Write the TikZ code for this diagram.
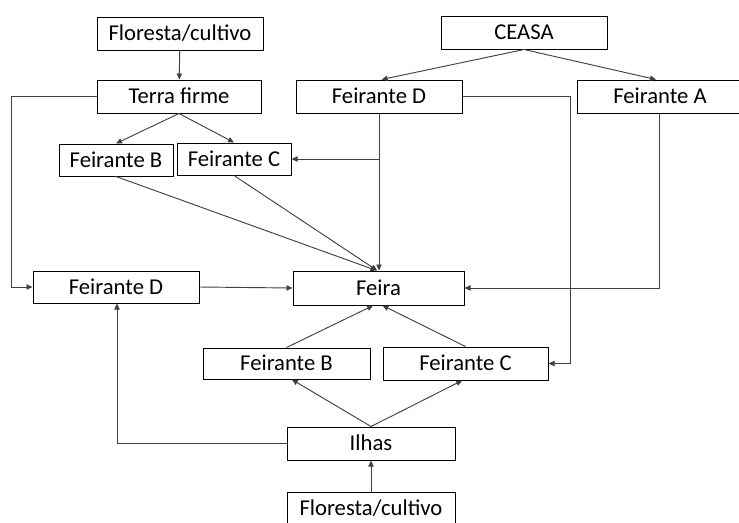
\documentclass[tikz,border=0pt]{standalone}
\usepackage{fontspec}
\setmainfont{Carlito}
\usetikzlibrary{arrows.meta}
\begin{document}
\begin{tikzpicture}[x=0.75pt,y=-0.75pt,
  box/.style={draw=black,line width=0.75pt,minimum height=24.75pt,inner sep=0pt,
    text height=10.9pt,text depth=0pt,
    font=\fontsize{17}{20}\selectfont,fill=white},
  arr/.style={draw=black!75,line width=0.7pt,-{Triangle[length=4.5pt,width=4pt]}},
  ln/.style={draw=black!75,line width=0.7pt}]
\clip (0,0) rectangle (739,522);
\node[box,minimum width=124.5pt] (flor1) at (180,33.5) {Floresta/cultivo};
\node[box,minimum width=124.5pt] (ceasa) at (524,32.5) {CEASA};
\node[box,minimum width=123pt] (terra) at (179,96.5) {Terra firme};
\node[box,minimum width=124.5pt] (fdtop) at (379,96.5) {Feirante D};
\node[box,minimum width=124.5pt] (fa) at (660,96.5) {Feirante A};
\node[box,minimum width=85.5pt,minimum height=24pt] (fb1) at (116,160) {Feirante B};
\node[box,minimum width=85.5pt,minimum height=24pt] (fc1) at (234,159) {Feirante C};
\node[box,minimum width=124.5pt,minimum height=24pt] (fdl) at (116,287) {Feirante D};
\node[box,minimum width=128.25pt,minimum height=25.5pt] (feira) at (378.5,288) {Feira};
\node[box,minimum width=125.25pt,minimum height=23.25pt] (fb2) at (286.5,363.5) {Feirante B};
\node[box,minimum width=123.75pt] (fc2) at (465.5,363.5) {Feirante C};
\node[box,minimum width=126pt] (ilhas) at (371,443.5) {Ilhas};
\node[box,minimum width=126pt] (flor2) at (371,508.5) {Floresta/cultivo};
\coordinate (lc) at (11,96.5);
\coordinate (rc) at (570,96.5);
% top-left branch
\draw[arr] (flor1) -- (terra);
\draw[arr] (terra.west) -- (lc) |- (fdl.west);
\draw[arr] (terra.south) -- (fb1.north);
\draw[arr] (terra.south) -- (fc1.north);
% CEASA
\draw[arr] (ceasa.south) -- ([xshift=2pt]fdtop.north);
\draw[arr] (ceasa.south) -- ([xshift=-3pt]fa.north);
% Feirante D top
\draw[arr] (fdtop.south) -- (fdtop.south |- feira.north);
\draw[arr] (fdtop.south |- fc1.east) -- (fc1.east);
\draw[arr] (fdtop.east) -- (rc) |- (fc2.east);
% Feirante A
\draw[arr] ([xshift=-0.75pt]fa.south) |- (feira.east);
% into Feira
\draw[arr] (fb1.south) -- ([xshift=-1.5pt]feira.north);
\draw[arr] (fc1.south) -- ([xshift=-1pt]feira.north);
\draw[arr] (fdl.east) -- (feira.west);
\draw[arr] (fb2.north) -- ([xshift=-4pt]feira.south);
\draw[arr] (fc2.north) -- ([xshift=3pt]feira.south);
% Ilhas
\draw[arr] (ilhas.north) -- ([xshift=4pt]fb2.south);
\draw[arr] (ilhas.north) -- ([xshift=-2.5pt]fc2.south);
\draw[arr] (ilhas.west) -| ([xshift=0.75pt]fdl.south);
\draw[arr] (flor2.north) -- (ilhas.south);
\end{tikzpicture}
\end{document}
